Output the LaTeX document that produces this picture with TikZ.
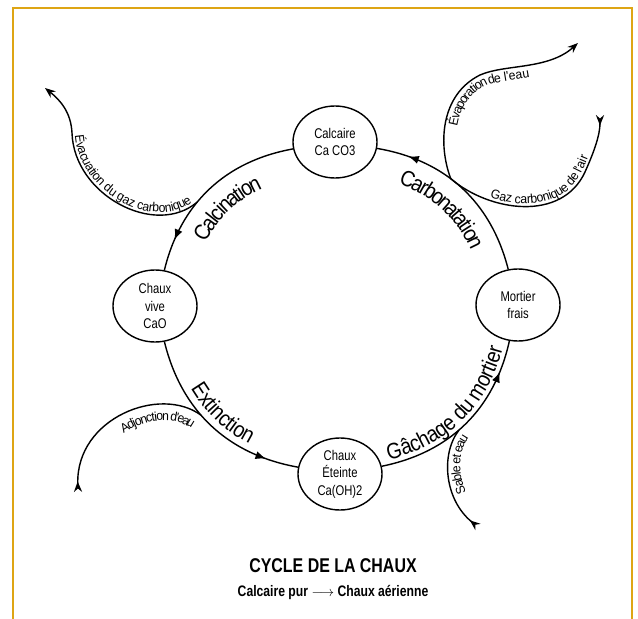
\documentclass[tikz,border=0pt]{standalone}
\usepackage{fontspec}
\setmainfont{Liberation Sans}
\newfontfamily\narrowfont{Liberation Sans}[FakeStretch=0.8]
\newfontfamily\labelfont{Liberation Sans}[FakeStretch=0.88]
\newfontfamily\sidefont{Liberation Sans}[FakeStretch=0.95]
\usetikzlibrary{positioning,shapes.geometric,arrows.meta,decorations.markings,decorations.text}
\definecolor{framegold}{RGB}{222,165,20}

\begin{document}
\begin{tikzpicture}[x=0.03cm,y=0.03cm,
        stage/.style={ellipse,draw=black,line width=1.2pt,minimum width=2.52cm,minimum height=2.16cm,inner sep=0pt,align=center,font=\narrowfont\fontsize{12}{15}\selectfont},
        cyclearc/.style={line width=1.2pt,bend right=33,postaction={decorate},
            decoration={markings,mark=at position 0.83 with {\arrow{Latex[length=9pt,width=7pt]}}}},
        sidearc/.style={line width=1.2pt},
        biglabel/.style 2 args={postaction={decorate},decoration={text along path,text align=center,raise=#2,
            text={|\labelfont\fontsize{19}{19}\selectfont|#1}}},
        smalllabel/.style n args={3}{postaction={decorate},decoration={text along path,text align={#3},raise=#2,
            text={|\sidefont\fontsize{11}{11}\selectfont|#1}}}
    ]
    \path[fill=white,use as bounding box] (0,0) rectangle (638,-619);
    \draw[framegold,line width=1.7pt] (13,-619) -- (13,-8) -- (632,-8) -- (632,-619);

    %--- stages ---
    \node[stage] (calc) at (335,-142) {Calcaire\\Ca CO3};
    \node[stage] (vive) at (155,-306) {Chaux\\vive\\CaO};
    \node[stage] (eteinte) at (340,-474) {Chaux\\Éteinte\\Ca(OH)2};
    \node[stage] (mortier) at (518,-305) {Mortier\\frais};

    %--- cycle ---
    \draw[cyclearc] (calc) to node[coordinate,pos=0.6] (evac) {} (vive);
    \draw[cyclearc] (vive) to node[coordinate,pos=0.42] (adj) {} (eteinte);
    \draw[cyclearc] (eteinte) to node[coordinate,pos=0.45] (sable) {} (mortier);
    \draw[cyclearc] (mortier) to node[coordinate,pos=0.58] (loop) {} (calc);

    \path[biglabel={Calcination}{-25pt}] (vive) to[bend left=33] (calc);
    \path[biglabel={Extinction}{6pt}] (vive) to[bend right=33] (eteinte);
    \path[biglabel={Gâchage du mortier}{4pt}] (eteinte) to[bend right=33] (mortier);
    \path[biglabel={Carbonatation}{-25pt}] (calc) to[bend left=33] (mortier);

    %--- exchanges ---
    \coordinate (evacend) at (45,-88);
    \coordinate (adjend) at (78,-492);
    \coordinate (evapend) at (578,-43);
    \coordinate (gazend) at (600,-115);
    \coordinate (sableend) at (478,-527);

    \draw[sidearc,{Stealth[length=9pt,width=7pt,inset=3pt]}-,smalllabel={Évacuation du gaz carbonique}{2.5pt}{right,right indent=4pt}]
        (evacend) .. controls (60,-100) and (71,-112) .. (72,-133) .. controls (74,-195) and (155,-238) .. (evac);
    \draw[sidearc,{Stealth[length=9pt,width=7pt,inset=3pt,reversed]}-,smalllabel={Adjonction d'eau}{-14pt}{right,right indent=1pt}]
        (adjend) .. controls (76,-418) and (160,-385) .. (adj);
    \draw[sidearc,-{Stealth[length=9pt,width=7pt,inset=3pt]},smalllabel={Évaporation de l'eau}{-10.5pt}{center}]
        (loop) .. controls (438,-145) and (440,-95) .. (480,-75) .. controls (505,-64) and (548,-70) .. (evapend);
    \draw[sidearc,-{Stealth[length=9pt,width=7pt,inset=3pt,reversed]},smalllabel={Gaz carbonique de l'air}{2.5pt}{center}]
        (loop) .. controls (490,-212) and (562,-222) .. (585,-172) .. controls (594,-152) and (600,-135) .. (gazend);
    \draw[sidearc,{Stealth[length=9pt,width=7pt,inset=3pt,reversed]}-,smalllabel={Sable et eau}{-10.5pt}{right,right indent=1pt}]
        (sableend) .. controls (445,-500) and (440,-455) .. (sable);

    %--- title ---
    \node[inner sep=0pt,font=\narrowfont\bfseries\fontsize{17}{18}\selectfont] (title) at (333,-566) {CYCLE DE LA CHAUX};
    \node[inner sep=0pt,font=\narrowfont\bfseries\fontsize{13}{14}\selectfont,below=10pt of title] (subtitle) {Calcaire pur $\longrightarrow$ Chaux aérienne};
\end{tikzpicture}
\end{document}
